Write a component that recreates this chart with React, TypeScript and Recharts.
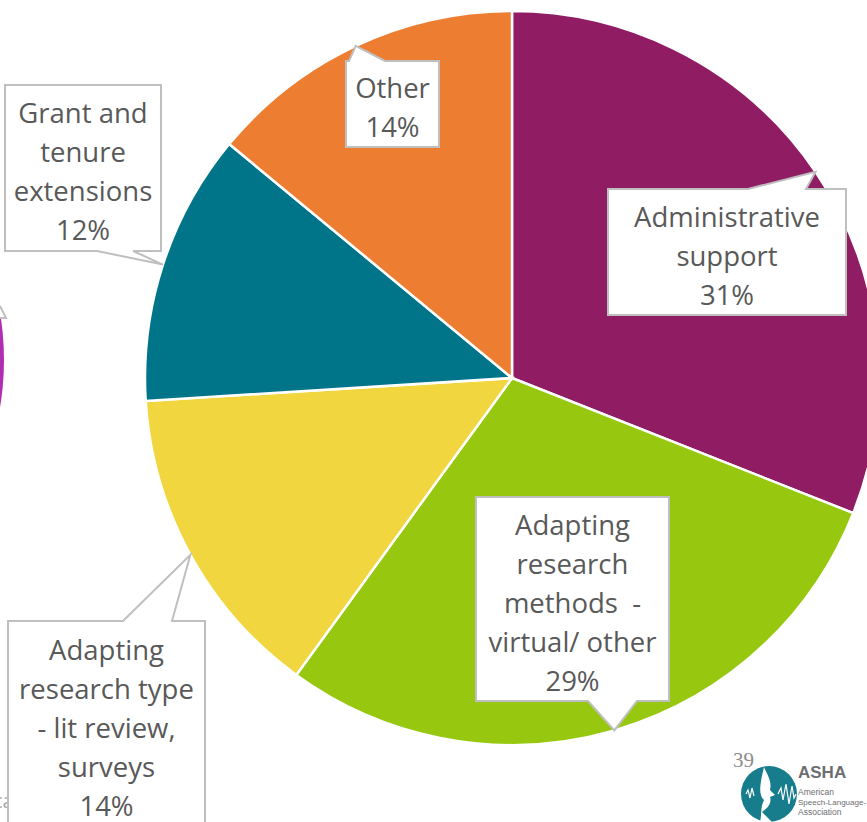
import React from 'react';
import { PieChart, Pie, Cell } from 'recharts';

// slice data, clockwise from 12 o'clock
const categories = [
  'Administrative support',
  'Adapting research methods - virtual/ other',
  'Adapting research type - lit review, surveys',
  'Grant and tenure extensions',
  'Other',
];
const labelLines = [
  ['Administrative', 'support'],
  ['Adapting', 'research', 'methods  -', 'virtual/ other'],
  ['Adapting', 'research type', '- lit review,', 'surveys'],
  ['Grant and', 'tenure', 'extensions'],
  ['Other'],
];
const shares = [31, 29, 14, 12, 14];

const colors = ['#901D63', '#97C80F', '#F2D63F', '#00758A', '#ED7D31'];

// callout box placement (px, chart coords) and side of the pointer
const boxes = [
  { x: 608, y: 189, w: 238, h: 126, side: 'top', b0: 748, b1: 806 },
  { x: 476, y: 497, w: 193, h: 204, side: 'bottom', b0: 588, b1: 637 },
  { x: 8, y: 621, w: 197, h: 206, side: 'top', b0: 123, b1: 172 },
  { x: 5, y: 85, w: 156, h: 166, side: 'bottom', b0: 97, b1: 133 },
  { x: 346, y: 61, w: 93, h: 86, side: 'top', b0: 349, b1: 385 },
];

const data = categories.map((name, i) => ({ name, value: shares[i] }));

const FONT = '"Open Sans", Lato, sans-serif';

const renderCallout = (props: any) => {
  const { cx, cy, midAngle, outerRadius, index, value } = props;
  const a = (-midAngle * Math.PI) / 180;
  const tx = cx + outerRadius * Math.cos(a);
  const ty = cy + outerRadius * Math.sin(a);
  const b = boxes[index];
  const r = b.x + b.w;
  const btm = b.y + b.h;
  const d =
    b.side === 'top'
      ? `M${b.x},${b.y} L${b.b0},${b.y} L${tx},${ty} L${b.b1},${b.y} L${r},${b.y} L${r},${btm} L${b.x},${btm} Z`
      : `M${b.x},${b.y} L${r},${b.y} L${r},${btm} L${b.b1},${btm} L${tx},${ty} L${b.b0},${btm} L${b.x},${btm} Z`;
  const lines = [...labelLines[index], `${value}%`];
  const mid = b.y + b.h / 2 + 3;
  return (
    <g key={`callout-${index}`}>
      <path d={d} fill="#fff" stroke="#BFBFBF" strokeWidth={2} />
      {lines.map((t, i) => (
        <text
          key={i}
          x={b.x + b.w / 2}
          y={mid + (i - (lines.length - 1) / 2) * 39}
          textAnchor="middle"
          dominantBaseline="central"
          fontFamily={FONT}
          fontSize={27.5}
          fill="#595959"
          style={{ whiteSpace: 'pre' }}
        >
          {t}
        </text>
      ))}
    </g>
  );
};

export default function App() {
  return (
    <div
      style={{
        position: 'absolute',
        left: 0,
        top: 0,
        width: 867,
        height: 822,
        overflow: 'hidden',
        background: '#fff',
      }}
    >
      {/* leftover pieces of the neighbouring slide content */}
      <svg width={867} height={822} style={{ position: 'absolute', left: 0, top: 0 }}>
        <circle cx={-280} cy={360} r={284} fill="#B12DB3" />
        <polyline points="0,306 6,318 0,318" fill="#fff" stroke="#BFBFBF" strokeWidth={2} />
        <text x={-7} y={808} fontFamily={FONT} fontSize={20} fill="#A6A6A6">
          ca
        </text>
      </svg>
      <div style={{ position: 'absolute', left: 0, top: 0 }}>
        <PieChart width={867} height={822} margin={{ top: 0, right: 0, bottom: 0, left: 0 }}>
          <Pie
            data={data}
            dataKey="value"
            nameKey="name"
            cx={512}
            cy={378}
            outerRadius={367}
            startAngle={90}
            endAngle={-270}
            stroke="#fff"
            strokeWidth={2.5}
            label={renderCallout}
            labelLine={false}
            isAnimationActive={false}
          >
            {data.map((d, i) => (
              <Cell key={d.name} fill={colors[i]} />
            ))}
          </Pie>
        </PieChart>
      </div>
      {/* page number and logo */}
      <svg width={867} height={822} style={{ position: 'absolute', left: 0, top: 0, pointerEvents: 'none' }}>
        <text x={733} y={767} fontFamily="'Liberation Serif', serif" fontSize={21} fill="#8C8C8C">
          39
        </text>
        <circle cx={769} cy={794} r={28} fill="#177C8C" />
        <path
          d="M764,767 C768,776 772,782 770,790 L775,795 L770,797 C772,803 768,808 762,812 C766,816 770,820 772,822 L760,822 C762,815 760,808 764,800 C758,794 760,784 764,767 Z"
          fill="#fff"
        />
        <polyline
          points="778,794 781,788 783,800 786,784 789,804 792,786 794,798 796,794"
          fill="none"
          stroke="#fff"
          strokeWidth={1.2}
        />
        <polyline points="746,794 748,790 750,798 752,788 754,796" fill="none" stroke="#fff" strokeWidth={1.2} />
        <text x={798} y={778} fontFamily="'Liberation Sans', Arial, sans-serif" fontWeight="bold" fontSize={17} fill="#6D6E71">
          ASHA
        </text>
        <text x={798} y={795} fontFamily="'Liberation Sans', sans-serif" fontSize={8.5} fill="#6D6E71">
          American
        </text>
        <text x={798} y={805} fontFamily="'Liberation Sans', sans-serif" fontSize={8} fill="#6D6E71">
          Speech-Language-
        </text>
        <text x={798} y={815} fontFamily="'Liberation Sans', sans-serif" fontSize={8.5} fill="#6D6E71">
          Association
        </text>
      </svg>
    </div>
  );
}
